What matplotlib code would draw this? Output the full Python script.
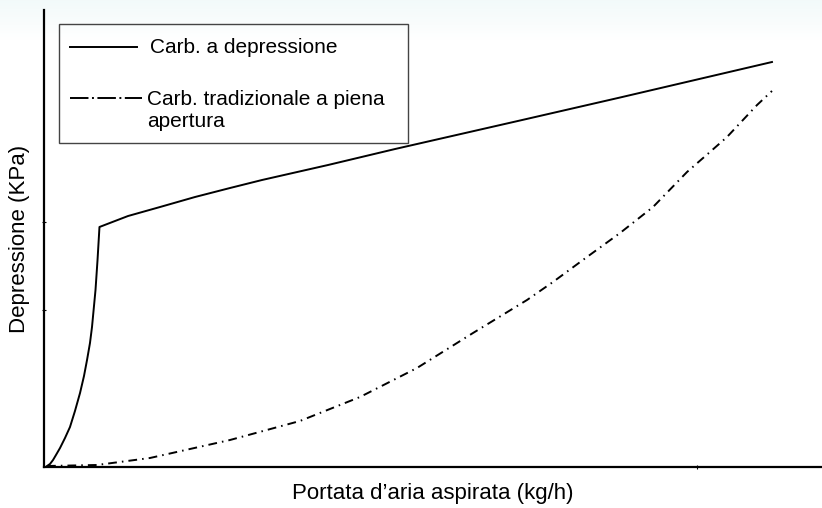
import matplotlib
matplotlib.use("Agg")
import matplotlib.pyplot as plt
from matplotlib.patches import Rectangle
import numpy as np

plt.rcParams["font.family"] = ["Liberation Sans", "DejaVu Sans"]

# Portata (x) / depressione (y), unita' relative 0-100
flow_vac = [0.39, 0.77, 1.16, 1.54, 2.06, 2.70, 3.34, 3.98, 4.63, 5.14, 5.53,
            5.91, 6.17, 6.62, 6.88, 7.13, 9.13, 10.80, 14.91, 19.41, 23.91,
            28.02, 36.50, 45.12, 61.18, 74.04, 93.57]
dep_vac = [0.22, 0.66, 1.53, 2.63, 4.16, 6.35, 8.75, 12.25, 16.19, 19.91, 23.41,
           27.13, 30.63, 38.73, 45.30, 52.52, 53.83, 54.92, 56.89, 59.08, 61.05,
           62.80, 66.08, 69.58, 75.82, 80.85, 88.62]

flow_trad = [0.39, 6.81, 13.62, 23.91, 32.90, 40.62, 47.94, 55.14, 62.08,
             65.42, 69.79, 74.04, 78.28, 82.65, 85.60, 87.79, 91.65, 93.57]
dep_trad = [0.22, 0.44, 1.97, 5.91, 10.07, 15.32, 21.66, 29.32, 36.54,
            40.48, 45.95, 51.20, 56.89, 64.55, 68.93, 72.21, 79.21, 82.28]

label_vac = "Carb. a depressione"
label_trad = "Carb. tradizionale a piena\napertura"
xlabel = "Portata d\u2019aria aspirata (kg/h)"
ylabel = "Depressione (KPa)"

y_ticks = [34.4, 53.6]
x_ticks = [83.9]

fig = plt.figure(figsize=(8.22, 5.08), dpi=100)

# leggera sfumatura in alto
bg = fig.add_axes([0, 0, 1, 1], zorder=-10)
grad = np.ones((508, 1, 3))
fade = np.clip(1 - np.arange(508) / 40.0, 0, 1)
grad[:, 0, 0] = 1 - 0.05 * fade
grad[:, 0, 1] = 1 - 0.02 * fade
grad[:, 0, 2] = 1 - 0.02 * fade
bg.imshow(grad, aspect="auto", extent=[0, 1, 0, 1])
bg.axis("off")

ax = fig.add_axes([44 / 822, 41 / 508, 778 / 822, 457 / 508])
ax.patch.set_alpha(0)

ax.plot(flow_vac, dep_vac, color="black", lw=1.4, solid_joinstyle="round")
ax.plot(flow_trad, dep_trad, color="black", lw=1.4, dashes=(4.5, 2.6, 0.8, 2.6))

ax.set_xlim(0, 100)
ax.set_ylim(0, 100)
for side in ("top", "right"):
    ax.spines[side].set_visible(False)
for side in ("left", "bottom"):
    ax.spines[side].set_linewidth(1.6)
ax.set_xticks(x_ticks)
ax.set_yticks(y_ticks)
ax.set_xticklabels([])
ax.set_yticklabels([])
ax.tick_params(length=2.5, width=0.8, direction="inout")

ax.set_xlabel(xlabel, fontsize=16, labelpad=7)
ax.set_ylabel(ylabel, fontsize=16, labelpad=5)

# legenda disegnata a mano
tr = ax.transAxes
ax.add_patch(Rectangle((0.0193, 0.709), 0.4487, 0.260, transform=tr,
                       fill=False, edgecolor="#444444", lw=1.0, zorder=5))
ax.plot([0.0334, 0.1195], [0.919, 0.919], transform=tr, color="black", lw=1.4)
ax.text(0.136, 0.919, label_vac, transform=tr, fontsize=15, va="center", ha="left")
ax.plot([0.0334, 0.126], [0.807, 0.807], transform=tr, color="black", lw=1.4,
        dashes=(9.5, 1.8, 1.0, 1.8))
ax.text(0.132, 0.780, label_trad, transform=tr, fontsize=15, va="center",
        ha="left", linespacing=1.2)

fig.savefig("out.png", dpi=100, facecolor="white")
